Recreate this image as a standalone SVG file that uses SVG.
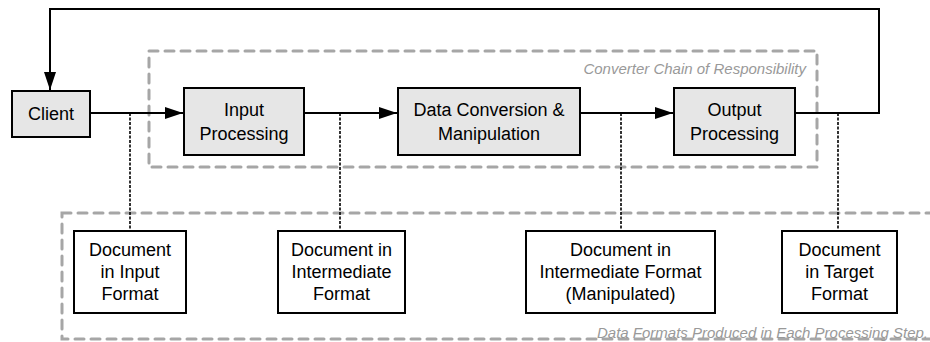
<svg xmlns="http://www.w3.org/2000/svg" width="930" height="342" viewBox="0 0 930 342">
<defs>
<marker id="arr" markerWidth="18" markerHeight="12" refX="18" refY="6" orient="auto" markerUnits="userSpaceOnUse">
<path d="M0,0 L18,6 L0,12 Z" fill="#000"/>
</marker>
<style>
.box{fill:#e6e6e6;stroke:#000;stroke-width:2}
.doc{fill:#fff;stroke:#000;stroke-width:2}
.group{fill:none;stroke:#a6a6a6;stroke-width:3;stroke-dasharray:9,7;stroke-linecap:round}
.line{fill:none;stroke:#000;stroke-width:2}
.dot{fill:none;stroke:#000;stroke-width:1.6;stroke-dasharray:3,1.5}
.t{font-family:"Liberation Sans",Arial,sans-serif;font-size:18px;fill:#000;text-anchor:middle}
.lbl{font-family:"Liberation Sans",Arial,sans-serif;font-size:15px;font-style:italic;fill:#999}
</style>
</defs>
<rect width="930" height="342" fill="#fff"/>
<g id="chain-group">
<rect class="group" x="149" y="51" width="668" height="116"/>
<text class="lbl" x="806" y="74" text-anchor="end">Converter Chain of Responsibility</text>
</g>
<g id="formats-group">
<rect class="group" x="62" y="213" width="900" height="126"/>
<text class="lbl" x="928" y="338" text-anchor="end">Data Formats Produced in Each Processing Step.</text>
</g>
<g id="connectors">
<path class="dot" d="M130,113 V231"/>
<path class="dot" d="M340,113 V231"/>
<path class="dot" d="M621,113 V231"/>
<path class="dot" d="M838,113 V231"/>
<path class="line" d="M90,113 H183" marker-end="url(#arr)"/>
<path class="line" d="M304,113 H397" marker-end="url(#arr)"/>
<path class="line" d="M580,113 H673" marker-end="url(#arr)"/>
<path class="line" d="M795,113 H879 V9 H50 V90" marker-end="url(#arr)"/>
</g>
<g id="client">
<rect class="box" x="12" y="91" width="78" height="46"/>
<text class="t" x="51" y="120">Client</text>
</g>
<g id="input-processing">
<rect class="box" x="184" y="88" width="120" height="67"/>
<text class="t" x="244" y="116">Input</text>
<text class="t" x="244" y="140">Processing</text>
</g>
<g id="data-conversion">
<rect class="box" x="398" y="88" width="182" height="67"/>
<text class="t" x="489" y="116">Data Conversion &amp;</text>
<text class="t" x="489" y="140">Manipulation</text>
</g>
<g id="output-processing">
<rect class="box" x="674" y="88" width="121" height="67"/>
<text class="t" x="734.5" y="116">Output</text>
<text class="t" x="734.5" y="140">Processing</text>
</g>
<g id="doc-input">
<rect class="doc" x="74" y="231" width="112" height="82"/>
<text class="t" x="130" y="256">Document</text>
<text class="t" x="130" y="278">in Input</text>
<text class="t" x="130" y="300">Format</text>
</g>
<g id="doc-intermediate">
<rect class="doc" x="278" y="231" width="127" height="82"/>
<text class="t" x="341.5" y="256">Document in</text>
<text class="t" x="341.5" y="278">Intermediate</text>
<text class="t" x="341.5" y="300">Format</text>
</g>
<g id="doc-manipulated">
<rect class="doc" x="526" y="231" width="189" height="82"/>
<text class="t" x="620.5" y="256">Document in</text>
<text class="t" x="620.5" y="278">Intermediate Format</text>
<text class="t" x="620.5" y="300">(Manipulated)</text>
</g>
<g id="doc-target">
<rect class="doc" x="782" y="231" width="115" height="82"/>
<text class="t" x="839.5" y="256">Document</text>
<text class="t" x="839.5" y="278">in Target</text>
<text class="t" x="839.5" y="300">Format</text>
</g>
</svg>
